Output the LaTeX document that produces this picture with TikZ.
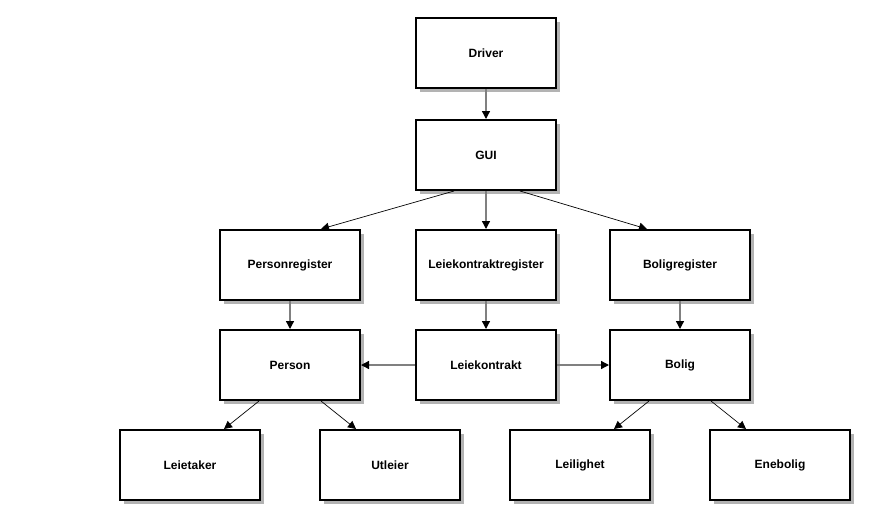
\documentclass[tikz,border=0pt]{standalone}
\usepackage{fontspec}
\setmainfont{Liberation Sans}
\usetikzlibrary{arrows.meta,shadows}

\definecolor{shadowgray}{RGB}{179,179,179}
\definecolor{linegray}{RGB}{128,128,128}

\begin{document}
\begin{tikzpicture}[x=1pt,y=-1pt,
  box/.style={rectangle,draw=black,line width=2pt,fill=white,
    minimum width=140pt,minimum height=70pt,
    font=\bfseries\fontsize{12}{14}\selectfont,
    drop shadow={shadow xshift=4pt,shadow yshift=-4pt,fill=shadowgray,opacity=1}},
  straight/.style={draw=linegray,line width=1.3pt,
    -{Triangle[length=8pt,width=8pt,color=black]}},
  slanted/.style={draw=black,line width=0.7pt,
    -{Triangle[length=8pt,width=8pt]}}]
\useasboundingbox (0,0) rectangle (870,520);

\node[box] (driver) at (486,53) {Driver};
\node[box] (gui) at (486,155) {GUI};
\node[box] (preg) at (290,265) {Personregister};
\node[box] (lreg) at (486,265) {Leiekontraktregister};
\node[box] (breg) at (680,265) {Boligregister};
\node[box] (person) at (290,365) {Person};
\node[box] (kontrakt) at (486,365) {Leiekontrakt};
\node[box] (bolig) at (680,365) {Bolig};
\node[box] (leietaker) at (190,465) {Leietaker};
\node[box] (utleier) at (390,465) {Utleier};
\node[box] (leilighet) at (580,465) {Leilighet};
\node[box] (enebolig) at (780,465) {Enebolig};

\draw[straight] (driver) -- (gui);
\draw[straight] (gui) -- (lreg);
\draw[slanted] ([xshift=39pt]gui.south west) -- ([xshift=-40pt]preg.north east);
\draw[slanted] ([xshift=-37pt]gui.south east) -- ([xshift=38pt]breg.north west);
\draw[straight] (preg) -- (person);
\draw[straight] (lreg) -- (kontrakt);
\draw[straight] (breg) -- (bolig);
\draw[straight] (kontrakt) -- (person);
\draw[straight] (kontrakt) -- (bolig);
\draw[slanted] ([xshift=40pt]person.south west) -- ([xshift=-37pt]leietaker.north east);
\draw[slanted] ([xshift=-40pt]person.south east) -- ([xshift=37pt]utleier.north west);
\draw[slanted] ([xshift=40pt]bolig.south west) -- ([xshift=-37pt]leilighet.north east);
\draw[slanted] ([xshift=-40pt]bolig.south east) -- ([xshift=37pt]enebolig.north west);
\end{tikzpicture}
\end{document}
